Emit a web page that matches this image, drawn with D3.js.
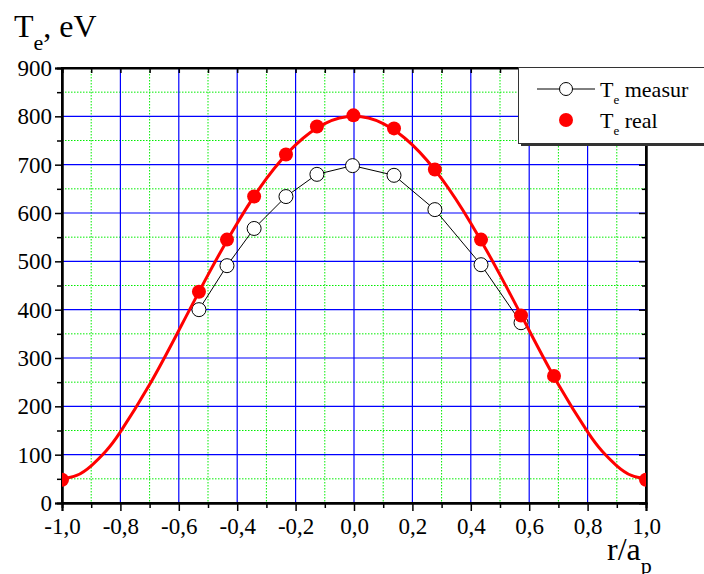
<!DOCTYPE html>
<html>
<head>
  <meta charset="utf-8">
  <script src="https://d3js.org/d3.v7.min.js"></script>
  <style>
    body { margin: 0; background: #fff; }
    .grid-major line { stroke: #0000ff; stroke-width: 1.2; }
    .grid-minor line { stroke: #00ee00; stroke-width: 1; stroke-dasharray: 1.5 1.5; }
    .axis path, .axis line { stroke: #000; }
  </style>
</head>
<body>
  <svg id="chart" width="704" height="574"></svg>
  <script>
    const serif = "Liberation Serif, Tinos, DejaVu Serif, serif";

    // measured points (open circles)
    const measX = [-0.531, -0.435, -0.342, -0.233, -0.127, -0.005, 0.137, 0.277, 0.435, 0.572];
    const measT = [400, 491, 568, 634, 680, 698, 678, 607, 493, 373];

    // real points (red dots)
    const realX = [-1.0, -0.531, -0.435, -0.342, -0.233, -0.127, -0.002, 0.137, 0.277, 0.435, 0.572, 0.685, 1.0];
    const realT = [48, 437, 545, 634, 721, 779, 802, 775, 690, 545, 388, 263, 48];

    // red fitted curve
    const curveX = [-1.0, -0.95, -0.9, -0.85, -0.8, -0.7, -0.6, -0.5, -0.4, -0.3, -0.2, -0.1, 0.0, 0.1, 0.2, 0.3, 0.4, 0.5, 0.6, 0.7, 0.8, 0.85, 0.9, 0.95, 1.0];
    const curveT = [50, 57, 77, 107, 147, 245, 357, 472, 579, 671, 741, 785, 800, 785, 741, 671, 579, 472, 357, 245, 147, 107, 77, 57, 50];

    const xTicks = [-1.0, -0.8, -0.6, -0.4, -0.2, 0.0, 0.2, 0.4, 0.6, 0.8, 1.0];
    const xMinor = [-0.9, -0.7, -0.5, -0.3, -0.1, 0.1, 0.3, 0.5, 0.7, 0.9];
    const yTicks = [0, 100, 200, 300, 400, 500, 600, 700, 800, 900];
    const yMinor = [50, 150, 250, 350, 450, 550, 650, 750, 850];

    const margin = { top: 68, right: 58, bottom: 71, left: 62 };
    const svg = d3.select("svg#chart");
    const width = +svg.attr("width");
    const height = +svg.attr("height");
    const chartWidth = width - margin.left - margin.right;
    const chartHeight = height - margin.top - margin.bottom;

    const xScale = d3.scaleLinear().domain([-1, 1]).range([0, chartWidth]);
    const yScale = d3.scaleLinear().domain([0, 900]).range([chartHeight, 0]);

    const chartArea = svg.append("g")
      .attr("transform", "translate(" + margin.left + "," + margin.top + ")");

    svg.append("defs").append("clipPath").attr("id", "plotclip")
      .append("rect").attr("x", 0).attr("y", 0).attr("width", chartWidth).attr("height", chartHeight);

    // gridlines
    const minor = chartArea.append("g").attr("class", "grid-minor");
    minor.selectAll("line.vx").data(xMinor).join("line")
      .attr("x1", d => xScale(d)).attr("x2", d => xScale(d))
      .attr("y1", 0).attr("y2", chartHeight);
    minor.selectAll("line.hy").data(yMinor).join("line")
      .attr("x1", 0).attr("x2", chartWidth)
      .attr("y1", d => yScale(d)).attr("y2", d => yScale(d));

    const major = chartArea.append("g").attr("class", "grid-major");
    major.selectAll("line.vx").data(xTicks.slice(1, -1)).join("line")
      .attr("x1", d => xScale(d)).attr("x2", d => xScale(d))
      .attr("y1", 0).attr("y2", chartHeight);
    major.selectAll("line.hy").data(yTicks.slice(1, -1)).join("line")
      .attr("x1", 0).attr("x2", chartWidth)
      .attr("y1", d => yScale(d)).attr("y2", d => yScale(d));

    // axes
    const fmt = d => d3.format(".1f")(d).replace(".", ",").replace("−", "-");
    const bottomAxis = d3.axisBottom(xScale).tickValues(xTicks).tickSize(8).tickPadding(7).tickFormat(fmt);
    const bottomMinor = d3.axisBottom(xScale).tickValues(xMinor).tickSize(5).tickFormat("");
    const leftAxis = d3.axisLeft(yScale).tickValues(yTicks).tickSize(7).tickPadding(3).tickFormat(d3.format("d"));
    const leftMinor = d3.axisLeft(yScale).tickValues(yMinor).tickSize(5).tickFormat("");
    const topAxis = d3.axisBottom(xScale).tickValues(xTicks.concat(xMinor)).tickSize(5).tickFormat("");
    const rightAxis = d3.axisLeft(yScale).tickValues(yTicks).tickSize(7).tickFormat("");
    const rightMinor = d3.axisLeft(yScale).tickValues(yMinor).tickSize(4).tickFormat("");

    chartArea.append("g").attr("class", "axis")
      .attr("transform", "translate(0," + chartHeight + ")").call(bottomAxis);
    chartArea.append("g").attr("class", "axis")
      .attr("transform", "translate(0," + chartHeight + ")").call(bottomMinor);
    chartArea.append("g").attr("class", "axis").call(leftAxis);
    chartArea.append("g").attr("class", "axis").call(leftMinor);
    chartArea.append("g").attr("class", "axis").call(topAxis);
    chartArea.append("g").attr("class", "axis")
      .attr("transform", "translate(" + chartWidth + ",0)").call(rightAxis);
    chartArea.append("g").attr("class", "axis")
      .attr("transform", "translate(" + chartWidth + ",0)").call(rightMinor);

    chartArea.selectAll(".axis").attr("font-family", serif);
    chartArea.selectAll(".axis path").attr("stroke-width", 2);
    chartArea.selectAll(".axis line").attr("stroke-width", 1.5);
    chartArea.selectAll(".axis text").attr("font-family", serif).attr("font-size", 23).attr("fill", "#000");

    // frame
    chartArea.append("rect")
      .attr("x", 0).attr("y", 0).attr("width", chartWidth).attr("height", chartHeight)
      .attr("fill", "none").attr("stroke", "#000").attr("stroke-width", 2);

    const plot = chartArea.append("g").attr("clip-path", "url(#plotclip)");

    // measured series
    const measData = measX.map((x, i) => ({ x: x, t: measT[i] }));
    const lineM = d3.line().x(d => xScale(d.x)).y(d => yScale(d.t));
    plot.append("path").datum(measData)
      .attr("d", lineM).attr("fill", "none").attr("stroke", "#000").attr("stroke-width", 1);
    plot.selectAll("circle.meas").data(measData).join("circle")
      .attr("class", "meas")
      .attr("cx", d => xScale(d.x)).attr("cy", d => yScale(d.t))
      .attr("r", 7).attr("fill", "#fff").attr("stroke", "#000").attr("stroke-width", 1);

    // real series
    const curveData = curveX.map((x, i) => ({ x: x, t: curveT[i] }));
    const lineR = d3.line().x(d => xScale(d.x)).y(d => yScale(d.t)).curve(d3.curveNatural);
    plot.append("path").datum(curveData)
      .attr("d", lineR).attr("fill", "none").attr("stroke", "#ff0000").attr("stroke-width", 3);
    const realData = realX.map((x, i) => ({ x: x, t: realT[i] }));
    plot.selectAll("circle.real").data(realData).join("circle")
      .attr("class", "real")
      .attr("cx", d => xScale(d.x)).attr("cy", d => yScale(d.t))
      .attr("r", 7).attr("fill", "#ff0000");

    // axis titles
    const yTitle = svg.append("text").attr("x", 14).attr("y", 37)
      .attr("font-family", serif).attr("font-size", 32);
    yTitle.append("tspan").text("T");
    yTitle.append("tspan").attr("dy", 13).attr("font-size", 22).text("e");
    yTitle.append("tspan").attr("dy", -13).text(", eV");

    const xTitle = svg.append("text").attr("x", 607).attr("y", 560)
      .attr("font-family", serif).attr("font-size", 32);
    xTitle.append("tspan").text("r/a");
    xTitle.append("tspan").attr("dy", 13).attr("font-size", 22).text("p");

    // legend
    const legend = svg.append("g");
    legend.append("rect").attr("x", 521).attr("y", 70).attr("width", 200).attr("height", 76).attr("fill", "#333");
    legend.append("rect").attr("x", 518.5).attr("y", 67.5).attr("width", 200).attr("height", 76)
      .attr("fill", "#fff").attr("stroke", "#333").attr("stroke-width", 1);
    legend.append("line").attr("x1", 537).attr("x2", 595).attr("y1", 89).attr("y2", 89)
      .attr("stroke", "#000").attr("stroke-width", 1);
    legend.append("circle").attr("cx", 566).attr("cy", 89).attr("r", 6.5)
      .attr("fill", "#fff").attr("stroke", "#000");
    legend.append("circle").attr("cx", 566).attr("cy", 120).attr("r", 7).attr("fill", "#ff0000");
    const names = [["measur", 97], ["real", 128]];
    names.forEach(n => {
      const t = legend.append("text").attr("x", 600).attr("y", n[1])
        .attr("font-family", serif).attr("font-size", 22);
      t.append("tspan").text("T");
      t.append("tspan").attr("dy", 7).attr("font-size", 13).text("e");
      t.append("tspan").attr("dy", -7).text(" " + n[0]);
    });
  </script>
</body>
</html>
